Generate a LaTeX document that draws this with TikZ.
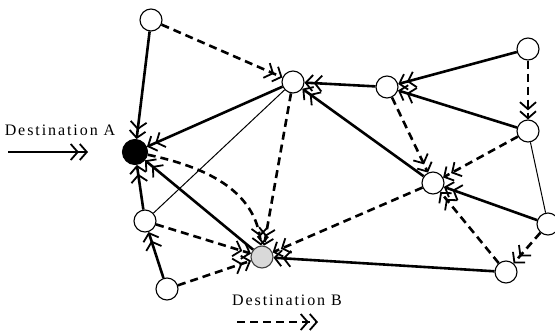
\documentclass[tikz,border=0pt]{standalone}
\usepackage{fontspec}
\setmainfont{Liberation Serif}
\newfontfamily\labelfont[LetterSpace=12]{Liberation Serif}
\usetikzlibrary{arrows.meta}
\begin{document}
\begin{tikzpicture}[x=1pt,y=-1pt,
  router/.style={circle,draw,line width=1.1pt,fill=white,minimum size=22pt,inner sep=0pt},
  tip/.style={-{Straight Barb[length=7pt,width=16pt,line width=1.8pt] Straight Barb[length=7pt,width=16pt,line width=1.8pt]}},
  toA/.style={tip,line width=2.6pt},
  toB/.style={tip,line width=2.6pt,dash pattern=on 8pt off 5pt},
  spare/.style={line width=1pt},
  legend/.style={font=\labelfont\fontsize{16}{18}\selectfont,inner sep=0pt}]
\useasboundingbox (0,0) rectangle (555,330);

% routers
\node[router] (nT) at (151,20) {};
\node[router] (nP) at (293,82) {};
\node[router] (nQ) at (387,87) {};
\node[router] (nR) at (528,49) {};
\node[router] (nS) at (528,131) {};
\node[router] (nM) at (433,183) {};
\node[router] (nE) at (548,224) {};
\node[router] (nF) at (506,272) {};
\node[router] (nC) at (145,221) {};
\node[router] (nD) at (167,289) {};
\node[router,fill=black,minimum size=25pt] (nA) at (135,152) {};
\node[router,fill=gray!30,draw=black!75] (nB) at (262,257) {};

% unused links
\draw[spare] (nP) -- (nC);
\draw[spare] (nS) -- (nE);

% routes towards destination A
\draw[toA] (nT) -- (nA);
\draw[toA] (nP) -- (nA);
\draw[toA] (nC) -- (nA);
\draw[toA] (nB) -- (nA);
\draw[toA] (nD) -- (nC);
\draw[toA] (nQ) -- (nP);
\draw[toA] (nM) -- (nP);
\draw[toA] (nR) -- (nQ);
\draw[toA] (nS) -- (nQ);
\draw[toA] (nE) -- (nM);
\draw[toA] (nF) -- (nB);

% routes towards destination B
\draw[toB] (nT) -- (nP);
\draw[toB] (nP) -- (nB);
\draw[toB] (nA) to[out=-12,in=95] (nB);
\draw[toB] (nC) -- (nB);
\draw[toB] (nD) -- (nB);
\draw[toB] (nQ) -- (nM);
\draw[toB] (nR) -- (nS);
\draw[toB] (nS) -- (nM);
\draw[toB] (nM) -- (nB);
\draw[toB] (nE) -- (nF);
\draw[toB] (nF) -- (nM);

% legend
\node[legend] (labA) at (60,130) {Destination A};
\coordinate (la0) at (8,152);
\coordinate (la1) at (88,152);
\draw[toA] (la0) -- (la1);
\node[legend] (labB) at (287,300) {Destination B};
\coordinate (lb0) at (237,322);
\coordinate (lb1) at (318,322);
\draw[toB] (lb0) -- (lb1);
\end{tikzpicture}
\end{document}
